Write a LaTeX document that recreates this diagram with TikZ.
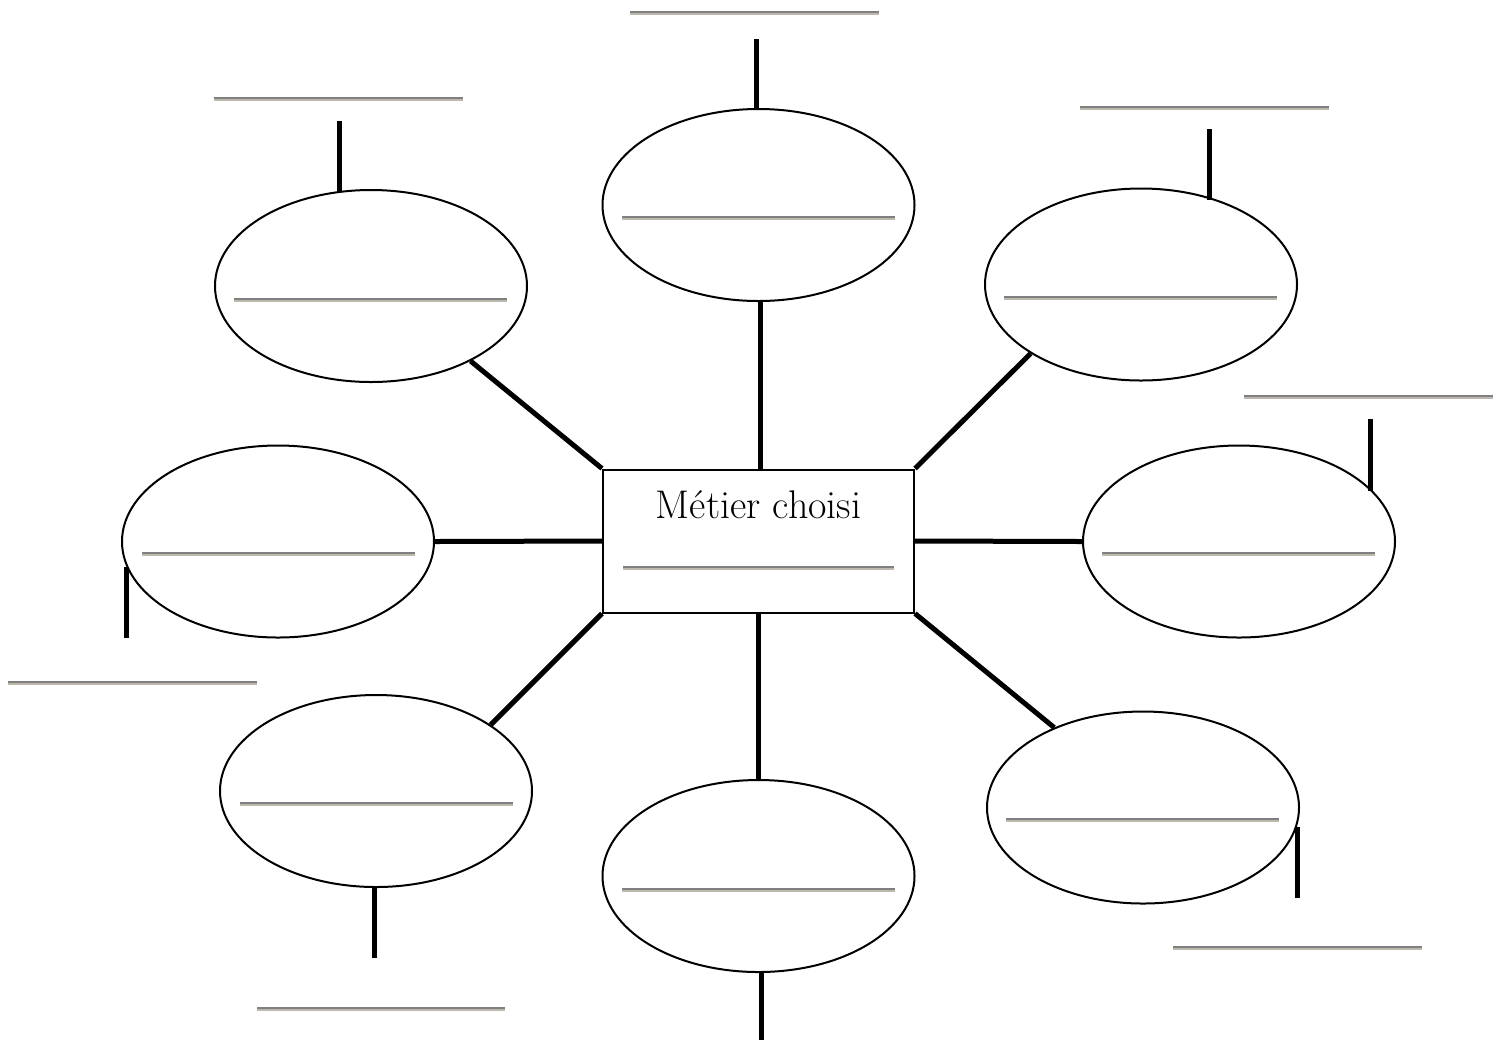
\documentclass[tikz,border=0pt]{standalone}
\usetikzlibrary{shapes.geometric}
\definecolor{rdark}{HTML}{808080}
\definecolor{rlight}{HTML}{BDB9AC}
\tikzset{
  x=0.5pt, y=-0.5pt,
  bubble/.style={draw, ellipse, line width=1pt, minimum width=156pt, minimum height=96pt, inner sep=0pt},
  centerbox/.style={draw, rectangle, line width=1pt, minimum width=155.5pt, minimum height=71.5pt, inner sep=0pt},
  link/.style={line width=2.5pt},
  tick/.style={line width=2.5pt},
  blank/.pic={\draw[rdark, line width=0.6pt] (0,0) -- (#1,0); \draw[rlight, line width=1pt] (0,1.6) -- (#1,1.6);}
}
\begin{document}
\begin{tikzpicture}
\useasboundingbox (0,0) rectangle (1502,1040);
% centre
\node[centerbox] (c) at (758.5,541) {};
\node[font=\fontsize{20}{24}\selectfont, anchor=base] (t) at (758.5,518) {Métier choisi};
\pic at (623,567) {blank=271};
% bubbles
\node[bubble] (e1) at (758.5,205) {};
\node[bubble] (e2) at (371,286) {};
\node[bubble] (e3) at (1141,284.5) {};
\node[bubble] (e4) at (278,541.5) {};
\node[bubble] (e5) at (1239,541.5) {};
\node[bubble] (e6) at (376,791) {};
\node[bubble] (e7) at (758.5,876) {};
\node[bubble] (e8) at (1143,807.5) {};
% lines inside bubbles
\pic at (622,217) {blank=273};
\pic at (234,299) {blank=273};
\pic at (1004,297) {blank=273};
\pic at (142,553) {blank=273};
\pic at (1102,553) {blank=273};
\pic at (240,803) {blank=273};
\pic at (622,889) {blank=273};
\pic at (1006,819) {blank=273};
% connectors
\draw[link] (c.north -| 760,0) -- (e1.south -| 760,0);
\draw[link] (c.north west) -- (e2.323);
\draw[link] (c.north east) -- (e3.212);
\draw[link] (c.west) -- (e4.east);
\draw[link] (c.east) -- (e5.west);
\draw[link] (c.south west) -- (e6.30);
\draw[link] (c.south) -- (e7.north);
\draw[link] (c.south east) -- (e8.138.5);
% outer ticks
\coordinate (k1a) at (756,39);   \coordinate (k1b) at (756,110);
\coordinate (k2a) at (339,121);  \coordinate (k2b) at (339,192);
\coordinate (k3a) at (1209,129); \coordinate (k3b) at (1209,200);
\coordinate (k5a) at (1370,419); \coordinate (k5b) at (1370,491);
\coordinate (k4a) at (126,567);  \coordinate (k4b) at (126,638);
\coordinate (k6a) at (374,887);  \coordinate (k6b) at (374,958);
\coordinate (k7a) at (761,971);  \coordinate (k7b) at (761,1040);
\coordinate (k8a) at (1297,827); \coordinate (k8b) at (1297,898);
\foreach \k in {1,...,8} \draw[tick] (k\k a) -- (k\k b);
% outer blanks
\pic at (630,12) {blank=249};
\pic at (214,98) {blank=249};
\pic at (1080,107) {blank=249};
\pic at (1244,396) {blank=249};
\pic at (8,682) {blank=249};
\pic at (1173,947) {blank=249};
\pic at (257,1008) {blank=248};
\end{tikzpicture}
\end{document}
